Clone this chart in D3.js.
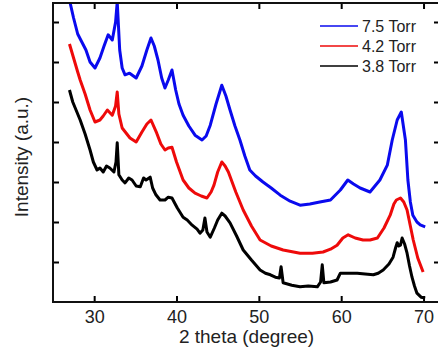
<!DOCTYPE html>
<html>
<head>
<meta charset="utf-8">
<script src="https://cdn.jsdelivr.net/npm/d3@7"></script>
<style>
  html, body { margin: 0; padding: 0; background: #fff; }
  svg { display: block; font-family: "Liberation Sans", Arial, sans-serif; }
</style>
</head>
<body>
<svg id="chart" width="438" height="356"></svg>
<script>
// XRD patterns, [2theta, intensity a.u.]
const torr75 = [[27.0, 7.55], [27.5, 7.1], [28.0, 6.7], [28.5, 6.5], [29.0, 6.3], [29.5, 6.0], [30.1, 5.85], [30.7, 6.1], [31.2, 6.4],
  [31.7, 6.68], [32.2, 6.55], [32.6, 7.0], [32.8, 7.5], [33.1, 6.3], [33.4, 5.85], [33.75, 5.68], [34.3, 5.72], [35.1, 5.6],
  [35.8, 5.9], [36.4, 6.3], [36.9, 6.6], [37.3, 6.4], [37.75, 6.05], [38.2, 5.6], [38.6, 5.35], [39.0, 5.55], [39.45, 5.8],
  [39.9, 5.3], [40.3, 4.95], [40.8, 4.67], [41.5, 4.4], [42.25, 4.17], [43.1, 4.05], [43.6, 4.15], [44.1, 4.42], [44.8, 4.95],
  [45.5, 5.42], [46.0, 5.15], [46.5, 4.8], [47.1, 4.4], [47.7, 4.05], [48.3, 3.65], [48.9, 3.3], [49.6, 3.15], [50.5, 3.0],
  [51.5, 2.85], [52.6, 2.67], [53.8, 2.52], [55.0, 2.42], [56.2, 2.45], [57.4, 2.5], [58.7, 2.55], [59.9, 2.8], [60.8, 3.05],
  [61.5, 2.95], [62.3, 2.85], [63.5, 2.75], [64.7, 3.05], [65.6, 3.42], [66.2, 4.05], [66.8, 4.55], [67.3, 4.75], [67.8, 4.05],
  [68.1, 3.05], [68.4, 2.5], [68.7, 2.17], [69.2, 2.0], [69.6, 1.93], [70.2, 1.88]];

const torr42 = [[27.0, 6.45], [27.5, 6.1], [28.0, 5.75], [28.3, 5.55], [28.9, 5.2], [29.5, 4.8], [30.1, 4.5], [30.7, 4.55],
  [31.1, 4.65], [31.6, 4.8], [32.2, 4.67], [32.6, 4.9], [32.8, 5.25], [33.0, 4.7], [33.4, 4.35], [34.35, 4.1], [35.1, 4.0],
  [35.8, 4.25], [36.4, 4.45], [36.9, 4.55], [37.6, 4.22], [38.1, 3.95], [38.6, 3.8], [39.0, 3.85], [39.45, 3.87], [40.0, 3.5],
  [40.8, 3.05], [41.5, 2.85], [42.25, 2.72], [43.0, 2.65], [43.7, 2.6], [44.2, 2.75], [44.55, 2.92], [45.0, 3.25], [45.5, 3.5],
  [45.9, 3.4], [46.3, 3.25], [47.2, 2.75], [48.1, 2.3], [49.1, 1.9], [50.15, 1.55], [51.5, 1.4], [52.95, 1.3], [55.0, 1.22],
  [56.5, 1.22], [57.8, 1.25], [58.7, 1.32], [59.5, 1.42], [60.2, 1.6], [60.85, 1.68], [61.7, 1.6], [62.65, 1.55], [63.5, 1.55],
  [64.4, 1.6], [65.2, 1.85], [65.95, 2.17], [66.4, 2.45], [66.7, 2.55], [67.2, 2.6], [67.6, 2.5], [68.0, 2.3], [68.4, 1.9],
  [68.75, 1.55], [69.3, 1.1], [69.95, 0.75]];

const torr38 = [[27.0, 5.3], [27.4, 5.0], [27.8, 4.8], [28.3, 4.55], [28.9, 4.2], [29.5, 3.8], [29.9, 3.5], [30.35, 3.3],
  [30.7, 3.35], [31.1, 3.25], [31.5, 3.4], [31.9, 3.35], [32.4, 3.25], [32.65, 3.5], [32.8, 3.98], [33.0, 3.18], [33.4, 3.05],
  [33.75, 2.98], [34.2, 3.1], [34.6, 3.05], [35.1, 2.9], [35.6, 2.88], [36.0, 3.1], [36.3, 3.05], [36.8, 3.12], [37.1, 2.85],
  [37.5, 2.68], [38.0, 2.55], [38.6, 2.55], [39.0, 2.62], [39.45, 2.6], [40.1, 2.35], [40.8, 2.12], [41.3, 2.05], [41.9, 1.92],
  [42.5, 1.82], [42.85, 1.72], [43.2, 1.8], [43.45, 2.1], [43.7, 1.75], [44.1, 1.62], [44.6, 1.85], [45.0, 2.05], [45.5, 2.22],
  [45.9, 2.15], [46.5, 1.98], [47.3, 1.65], [48.1, 1.3], [49.1, 1.05], [50.15, 0.8], [50.8, 0.72], [51.4, 0.68], [52.0, 0.62],
  [52.5, 0.6], [52.7, 0.88], [52.95, 0.48], [54.0, 0.42], [55.0, 0.38], [56.0, 0.4], [57.1, 0.38], [57.5, 0.5], [57.7, 0.93],
  [57.9, 0.48], [58.7, 0.5], [59.5, 0.55], [59.9, 0.72], [60.9, 0.72], [61.95, 0.72], [62.9, 0.7], [63.9, 0.68], [64.5, 0.72],
  [65.1, 0.8], [65.8, 0.95], [66.3, 1.12], [66.6, 1.35], [66.8, 1.48], [67.0, 1.4], [67.2, 1.42], [67.4, 1.6], [67.7, 1.45],
  [68.0, 1.22], [68.3, 0.9], [68.6, 0.62], [68.9, 0.4], [69.2, 0.22], [69.7, 0.12], [70.2, 0.1]];

const seriesNames = ["7.5 Torr", "4.2 Torr", "3.8 Torr"];
const seriesColors = ["#0a0aee", "#ee0a0a", "#000000"];
const xTicks = [30, 40, 50, 60, 70];
const yTicks = [1, 2, 3, 4, 5, 6, 7];

const margin = {top: 3, right: -2, bottom: 54, left: 53};
const width = 438, height = 356;

const svg = d3.select("#chart");

const x = d3.scaleLinear().domain([25, 72]).range([margin.left, width - margin.right]);
const y = d3.scaleLinear().domain([0, 7.475]).range([height - margin.bottom, margin.top]);

svg.append("clipPath").attr("id", "plot-clip")
  .append("rect")
  .attr("x", margin.left).attr("y", margin.top)
  .attr("width", x.range()[1] - margin.left)
  .attr("height", y.range()[0] - margin.top);

const line = d3.line().x(d => x(d[0])).y(d => y(d[1]));

const plot = svg.append("g").attr("clip-path", "url(#plot-clip)");
[torr75, torr42, torr38].forEach((s, i) => {
  plot.append("path")
    .datum(s)
    .attr("fill", "none")
    .attr("stroke", seriesColors[i])
    .attr("stroke-width", 3)
    .attr("stroke-linejoin", "round")
    .attr("d", line);
});

// axes, ticks pointing inward, no labels on y
const x0 = y.range()[0], xTop = margin.top;
svg.append("g").attr("transform", `translate(0,${x0})`)
  .call(d3.axisBottom(x).tickValues(xTicks).tickSize(-6).tickPadding(8).tickFormat(d3.format("d")))
  .call(g => g.select(".domain").remove())
  .call(g => g.selectAll("line").attr("stroke-width", 2))
  .call(g => g.selectAll("text").attr("font-size", 18).attr("fill", "#222").attr("font-family", "Liberation Sans, Arial, sans-serif"));

svg.append("g").attr("transform", `translate(0,${xTop})`)
  .call(d3.axisTop(x).tickValues(xTicks).tickSize(-6).tickFormat(""))
  .call(g => g.select(".domain").remove())
  .call(g => g.selectAll("line").attr("stroke-width", 2));

svg.append("g").attr("transform", `translate(${margin.left},0)`)
  .call(d3.axisLeft(y).tickValues(yTicks).tickSize(-6).tickFormat(""))
  .call(g => g.select(".domain").remove())
  .call(g => g.selectAll("line").attr("stroke-width", 2));

svg.append("g").attr("transform", `translate(${x.range()[1]},0)`)
  .call(d3.axisRight(y).tickValues(yTicks).tickSize(-6).tickFormat(""))
  .call(g => g.select(".domain").remove())
  .call(g => g.selectAll("line").attr("stroke-width", 2));

svg.append("rect")
  .attr("x", margin.left).attr("y", margin.top)
  .attr("width", x.range()[1] - margin.left)
  .attr("height", x0 - margin.top)
  .attr("fill", "none").attr("stroke", "#111").attr("stroke-width", 2);

// axis titles
svg.append("text")
  .attr("x", (margin.left + x.range()[1]) / 2).attr("y", 343)
  .attr("text-anchor", "middle").attr("font-size", 19).attr("fill", "#222")
  .text("2 theta (degree)");

svg.append("text")
  .attr("transform", "translate(28,157) rotate(-90)")
  .attr("text-anchor", "middle").attr("font-size", 19).attr("fill", "#222")
  .text("Intensity (a.u.)");

// legend
const legend = svg.append("g");
seriesNames.forEach((name, i) => {
  const ly = 26 + i * 20;
  legend.append("line")
    .attr("x1", 320).attr("x2", 358).attr("y1", ly).attr("y2", ly)
    .attr("stroke", seriesColors[i]).attr("stroke-width", 1.5);
  legend.append("text")
    .attr("x", 362).attr("y", ly).attr("dy", "0.36em")
    .attr("font-size", 16).attr("fill", "#222")
    .text(name);
});
</script>
</body>
</html>
